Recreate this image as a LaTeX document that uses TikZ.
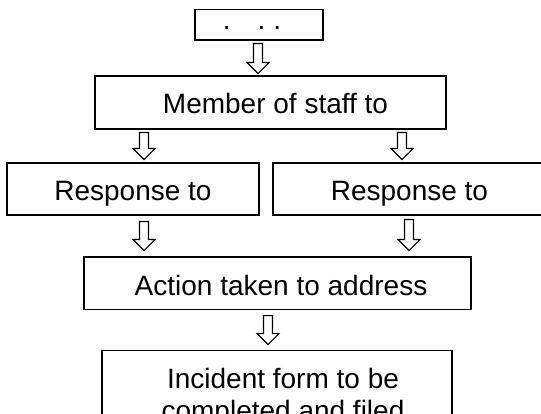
\documentclass[tikz,border=0pt]{standalone}
\usepackage{fontspec}
\setmainfont{Liberation Sans}
\usetikzlibrary{calc}
\tikzset{
  box/.style={draw, line width=1.2pt, inner sep=0pt, font=\fontsize{28}{32}\selectfont,
    text depth=6pt},
  blk/.style={draw, line width=1.2pt, line join=miter, fill=white},
}
\newcommand\barrow[2]{%
  \draw[blk] #1 ++(-4.5,0) -- ++(0,#2-11) -- ++(-6.5,0) -- ++(11,11)
    -- ++(11,-11) -- ++(-6.5,0) -- ++(0,-#2+11) -- cycle;}
\begin{document}
\begin{tikzpicture}[x=1pt,y=-1pt]
\useasboundingbox (0,0) rectangle (541,414);
\clip (0,0) rectangle (541,414);
\node[box, minimum width=128, minimum height=30.5, text height=16.5] (top) at (259,24.75)
  {\hspace*{-14pt}.\hspace{27pt}.\hspace{8pt}.};
\node[box, minimum width=351, minimum height=53, text height=29] (mem) at (270.5,102.5)
  {\hspace*{10pt}Member of staff to};
\node[box, minimum width=252, minimum height=52, text height=29] (resl) at (133,189)
  {Response to};
\node[box, minimum width=287, minimum height=52, text height=29] (resr) at (416.5,189)
  {Response to\hspace*{14pt}};
\node[box, minimum width=387, minimum height=52.5, text height=31] (act) at (277.5,283.25)
  {\hspace*{7pt}Action taken to address};
\node[box, anchor=north, minimum width=350, minimum height=93.5, text height=52.5,
  align=center] (inc) at (277,350)
  {\hspace*{12pt}Incident form to be\\\hspace*{12pt}completed and filed};
\barrow{($(top.south)+(-1,3)$)}{30}
\barrow{($(mem.south)+(-126.5,3)$)}{27}
\barrow{($(mem.south)+(131.5,3)$)}{27}
\barrow{($(resl.south)+(11,6)$)}{29}
\barrow{($(resr.south)+(-7.5,4)$)}{31}
\barrow{($(act.south)+(-9.5,5.5)$)}{29}
\end{tikzpicture}
\end{document}
